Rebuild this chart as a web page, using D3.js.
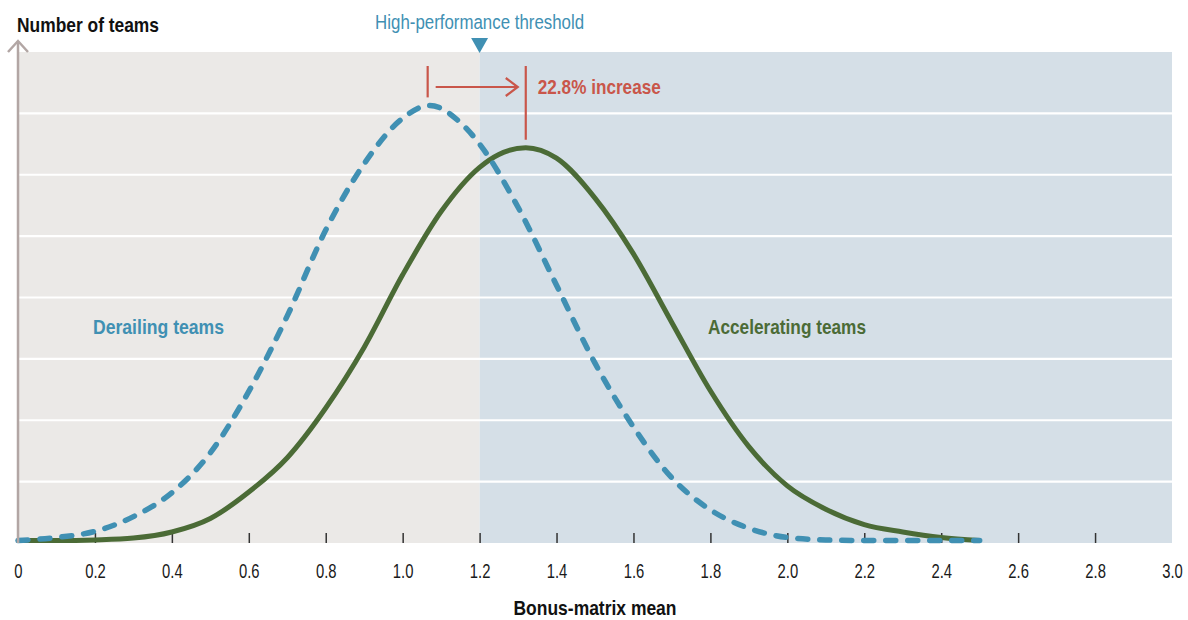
<!DOCTYPE html>
<html>
<head>
<meta charset="utf-8">
<script src="https://cdn.jsdelivr.net/npm/d3@7"></script>
<style>
  body { margin: 0; background: #fff; }
  svg { display: block; font-family: "Liberation Sans", Arial, sans-serif; }
</style>
</head>
<body>
<div id="chart-area"></div>
<script>
// curve data
const derailX = [0, 0.1, 0.2, 0.3, 0.4, 0.5, 0.6, 0.7, 0.8, 0.9, 1.0, 1.07, 1.15, 1.2, 1.3, 1.4, 1.5, 1.6, 1.7, 1.8, 1.9, 2.0, 2.1, 2.2, 2.5]
const derailY = [0.04, 0.09, 0.19, 0.43, 0.82, 1.47, 2.47, 3.70, 5.10, 6.18, 6.92, 7.13, 6.85, 6.50, 5.47, 4.20, 2.93, 1.89, 1.06, 0.54, 0.24, 0.09, 0.05, 0.04, 0.04]

const accelX = [0, 0.1, 0.2, 0.3, 0.4, 0.5, 0.6, 0.7, 0.8, 0.9, 1.0, 1.1, 1.2, 1.25, 1.32, 1.4, 1.5, 1.6, 1.7, 1.8, 1.9, 2.0, 2.1, 2.2, 2.3, 2.4, 2.5]
const accelY = [0.04, 0.04, 0.05, 0.08, 0.18, 0.40, 0.83, 1.39, 2.20, 3.19, 4.37, 5.40, 6.12, 6.33, 6.44, 6.27, 5.62, 4.71, 3.59, 2.48, 1.57, 0.93, 0.55, 0.30, 0.18, 0.09, 0.04]

const xTicks = [0, 0.2, 0.4, 0.6, 0.8, 1.0, 1.2, 1.4, 1.6, 1.8, 2.0, 2.2, 2.4, 2.6, 2.8, 3.0]
const yGrid = [1, 2, 3, 4, 5, 6, 7]
const threshold = 1.2
const peaks = [1.065, 1.32]
const increaseLabel = "22.8% increase"

const width = 1188
const height = 620
const margin = { left: 18, right: 16, top: 52, bottom: 77 }

const svg = d3.select("#chart-area").append("svg")
  .attr("width", width)
  .attr("height", height)

const x = d3.scaleLinear()
  .domain([0, 3])
  .range([margin.left, width - margin.right])

const y = d3.scaleLinear()
  .domain([0, 8])
  .range([height - margin.bottom, margin.top])

const colors = {
  left: "#ebe9e7",
  right: "#d5dfe7",
  blue: "#4090b3",
  green: "#4b6b36",
  red: "#c9564a",
  axis: "#b2a6a4",
}

// the original uses a condensed face, so squeeze the text horizontally
function squeeze(sel, k) {
  sel.each(function () {
    const w = this.getComputedTextLength()
    d3.select(this)
      .attr("textLength", w * k)
      .attr("lengthAdjust", "spacingAndGlyphs")
  })
}

// background zones
svg.append("rect")
  .attr("x", x(0)).attr("y", y(8))
  .attr("width", x(threshold) - x(0))
  .attr("height", y(0) - y(8))
  .attr("fill", colors.left)

svg.append("rect")
  .attr("x", x(threshold)).attr("y", y(8))
  .attr("width", x(3) - x(threshold))
  .attr("height", y(0) - y(8))
  .attr("fill", colors.right)

// horizontal gridlines
svg.append("g")
  .selectAll("line")
  .data(yGrid)
  .enter().append("line")
  .attr("x1", x(0)).attr("x2", x(3))
  .attr("y1", d => y(d)).attr("y2", d => y(d))
  .attr("stroke", "#fff")
  .attr("stroke-width", 2.2)

// x axis: ticks pointing up into the plot
const xAxisCall = d3.axisBottom(x)
  .tickValues(xTicks)
  .tickSize(0)
  .tickPadding(21)
  .tickFormat(d => d === 0 ? "0" : d.toFixed(1))

const xAxis = svg.append("g")
  .attr("transform", `translate(0, ${y(0)})`)
  .call(xAxisCall)

xAxis.select(".domain").remove()
xAxis.selectAll("text")
  .attr("font-size", "19.5px")
  .attr("font-family", null)
  .attr("fill", "#1a1a1a")
  .call(squeeze, 0.76)

xAxis.selectAll(".tick")
  .filter(d => d > 0 && d < 3)
  .append("line")
  .attr("y1", 0).attr("y2", -10)
  .attr("stroke", "#333")
  .attr("stroke-width", 1.5)

// curves
const line = d3.line()
  .x(d => x(d[0]))
  .y(d => y(d[1]))
  .curve(d3.curveMonotoneX)

svg.append("path")
  .datum(accelX.map((v, i) => [v, accelY[i]]))
  .attr("d", line)
  .attr("fill", "none")
  .attr("stroke", colors.green)
  .attr("stroke-width", 5)
  .attr("stroke-linejoin", "round")

svg.append("path")
  .datum(derailX.map((v, i) => [v, derailY[i]]))
  .attr("d", line)
  .attr("fill", "none")
  .attr("stroke", colors.blue)
  .attr("stroke-width", 5.5)
  .attr("stroke-linecap", "round")
  .attr("stroke-dasharray", "10,12")

// y axis arrow
const ax = x(0)
svg.append("line")
  .attr("x1", ax).attr("x2", ax)
  .attr("y1", y(0)).attr("y2", margin.top - 11)
  .attr("stroke", colors.axis)
  .attr("stroke-width", 2.5)

svg.append("path")
  .attr("d", `M${ax - 10},${margin.top} L${ax},${margin.top - 11} L${ax + 10},${margin.top}`)
  .attr("fill", "none")
  .attr("stroke", colors.axis)
  .attr("stroke-width", 2.5)

// threshold marker
const tx = x(threshold)
svg.append("path")
  .attr("d", `M${tx - 8.5},${margin.top - 14} L${tx + 8.5},${margin.top - 14} L${tx},${margin.top + 1} Z`)
  .attr("fill", colors.blue)

svg.append("text")
  .attr("x", tx)
  .attr("y", 29)
  .attr("text-anchor", "middle")
  .attr("font-size", "20.5px")
  .attr("fill", colors.blue)
  .attr("textLength", 209)
  .attr("lengthAdjust", "spacingAndGlyphs")
  .text("High-performance threshold")

// peak shift annotation
const p0 = x(peaks[0])
const p1 = x(peaks[1])
const arrowY = 87
svg.append("line")
  .attr("x1", p0).attr("x2", p0)
  .attr("y1", 66).attr("y2", y(d3.max(derailY)) - 8)
  .attr("stroke", colors.red).attr("stroke-width", 2.2)

svg.append("line")
  .attr("x1", p1).attr("x2", p1)
  .attr("y1", 66).attr("y2", y(d3.max(accelY)) - 8)
  .attr("stroke", colors.red).attr("stroke-width", 2.2)

svg.append("path")
  .attr("d", `M${p0 + 8},${arrowY} L${p1 - 8},${arrowY} M${p1 - 20},${arrowY - 9} L${p1 - 8},${arrowY} L${p1 - 20},${arrowY + 9}`)
  .attr("fill", "none")
  .attr("stroke", colors.red)
  .attr("stroke-width", 2.2)

svg.append("text")
  .attr("x", p1 + 12)
  .attr("y", 94)
  .attr("font-size", "21px")
  .attr("font-weight", "bold")
  .attr("fill", colors.red)
  .attr("textLength", 123)
  .attr("lengthAdjust", "spacingAndGlyphs")
  .text(increaseLabel)

// labels
const labels = [
  { text: "Number of teams", x: 17, y: 32, w: 142, anchor: "start", fill: "#111" },
  { text: "Bonus-matrix mean", x: x(1.5), y: 615, w: 163, anchor: "middle", fill: "#111" },
  { text: "Derailing teams", x: 93, y: 334, w: 131, anchor: "start", fill: colors.blue },
  { text: "Accelerating teams", x: 708, y: 334, w: 158, anchor: "start", fill: colors.green },
]

svg.append("g")
  .selectAll("text")
  .data(labels)
  .enter().append("text")
  .attr("x", d => d.x)
  .attr("y", d => d.y)
  .attr("text-anchor", d => d.anchor)
  .attr("font-size", "21px")
  .attr("font-weight", "bold")
  .attr("fill", d => d.fill)
  .attr("textLength", d => d.w)
  .attr("lengthAdjust", "spacingAndGlyphs")
  .text(d => d.text)
</script>
</body>
</html>
